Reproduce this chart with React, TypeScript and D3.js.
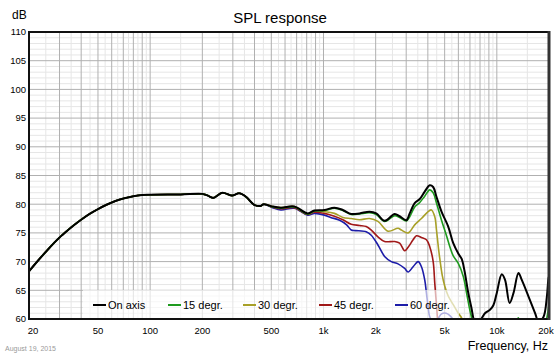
import React from "react";
import * as d3 from "d3";

// ---- data ----
const commonLow: [number, number][] = [
  [20, 68.3], [22, 69.8], [25, 71.7], [28, 73.3], [30, 74.2], [33, 75.3], [36, 76.25],
  [40, 77.3], [45, 78.35], [50, 79.15], [56, 79.9], [63, 80.55], [71, 81.05], [80, 81.4],
  [90, 81.6], [100, 81.65], [150, 81.7], [200, 81.8], [215, 81.5], [231, 81.1],
  [261, 82.0], [297, 81.5], [326, 81.9], [357, 81.3], [398, 79.9], [434, 79.7], [452, 80.0],
];

const onAxis: [number, number][] = [
  [508, 79.6], [568, 79.4], [678, 79.6], [811, 78.4], [886, 78.9], [1012, 79.0], [1156, 79.4],
  [1293, 79.0], [1445, 78.3], [1614, 78.4], [1844, 78.7], [2016, 78.4], [2252, 77.1],
  [2574, 78.3], [2750, 77.9], [3008, 77.2], [3143, 78.4], [3359, 80.2], [3592, 80.9],
  [3838, 82.2], [4103, 83.3], [4293, 83.0], [4486, 81.3], [4796, 78.7], [5243, 76.1],
  [5606, 73.2], [5993, 71.4], [6262, 70.5], [6500, 68.5], [6846, 64.5], [7154, 61.8],
  [7400, 59.8], [7750, 59.3], [8100, 59.9], [8542, 61.0], [9132, 61.6], [9554, 62.4],
  [9988, 64.5], [10676, 67.8], [11156, 66.8], [11850, 62.8], [12474, 64.5], [13336, 68.0],
  [13936, 66.8], [15240, 63.9], [16640, 61.0], [17412, 59.5], [18612, 60.4], [19444, 63.9],
  [19894, 67.4], [20000, 66.5],
];

const deg15: [number, number][] = [
  [508, 79.5], [568, 79.3], [678, 79.5], [811, 78.3], [886, 78.8], [1012, 78.9], [1156, 79.3],
  [1293, 78.9], [1445, 78.2], [1614, 78.3], [1844, 78.5], [2016, 78.2], [2252, 77.0],
  [2574, 78.0], [2750, 77.7], [3008, 77.1], [3143, 77.8], [3359, 79.5], [3592, 80.3],
  [3838, 81.4], [4103, 82.5], [4293, 82.0], [4486, 80.2], [4796, 77.2], [5126, 74.5],
  [5357, 72.6], [5606, 71.0], [5993, 69.7], [6406, 67.4], [6693, 64.5], [6994, 61.5],
  [7154, 60.3], [7400, 58.0], [8000, 55.5], [11000, 56.5], [12700, 58.5], [13300, 60.2],
  [14000, 58.0], [17000, 56.0], [19000, 59.0], [20000, 62.5],
];

const deg30: [number, number][] = [
  [508, 79.6], [568, 79.4], [678, 79.6], [811, 78.3], [886, 78.8], [1012, 78.7], [1156, 78.4],
  [1293, 77.7], [1445, 77.5], [1614, 77.3], [1844, 77.5], [2062, 77.0], [2357, 75.3],
  [2692, 75.8], [2814, 75.5], [3077, 75.0], [3359, 76.4], [3674, 77.5], [4016, 78.7],
  [4196, 79.0], [4386, 77.8], [4486, 75.5], [4600, 72.5], [4688, 70.5], [4850, 67.5],
  [5000, 65.8], [5243, 64.0], [5606, 62.5], [5993, 61.0], [6262, 60.2], [6600, 58.0],
  [7200, 55.0],
];

const deg45: [number, number][] = [
  [508, 79.5], [568, 79.2], [678, 79.4], [811, 78.2], [886, 78.6], [1012, 78.4], [1156, 77.9],
  [1293, 77.3], [1445, 76.5], [1614, 76.3], [1764, 76.1], [1886, 75.5], [2062, 74.3],
  [2252, 73.5], [2574, 73.5], [2750, 73.2], [2940, 71.9], [3077, 72.5], [3289, 73.8],
  [3437, 74.5], [3674, 74.2], [3926, 73.8], [4103, 72.6], [4293, 70.0], [4386, 66.2],
  [4486, 62.5], [4550, 60.0], [4700, 56.0],
];

const deg60: [number, number][] = [
  [508, 79.4], [568, 79.0], [678, 79.3], [811, 78.1], [886, 78.4], [1012, 78.1], [1100, 77.7],
  [1240, 77.2], [1360, 76.4], [1445, 75.5], [1530, 75.4], [1764, 75.2], [1886, 74.6],
  [2062, 72.9], [2252, 70.9], [2462, 70.0], [2692, 69.6], [2940, 68.8], [3077, 68.2],
  [3289, 69.1], [3516, 70.0], [3674, 69.1], [3838, 66.8], [3926, 64.5], [4016, 62.1],
  [4103, 60.4], [4300, 59.6], [4546, 60.0], [4800, 60.9], [5100, 61.0], [5400, 60.5],
  [5700, 59.5], [6000, 58.0], [6500, 56.0],
];

const seriesNames = ["On axis", "15 degr.", "30 degr.", "45 degr.", "60 degr."];
const seriesData = [onAxis, deg15, deg30, deg45, deg60];
const seriesColors = ["#000000", "#1e9a1e", "#a8a028", "#a01818", "#1c1ca8"];

const xTickValues = [20, 50, 100, 200, 500, 1000, 2000, 5000, 10000, 20000];
const xTickLabels = ["20", "50", "100", "200", "500", "1k", "2k", "5k", "10k", "20k"];
const yTickValues = [60, 65, 70, 75, 80, 85, 90, 95, 100, 105, 110];

// ---- layout ----
const W = 559, H = 356;
const L = 29, R = 549, T = 32, B = 319;
const FONT = "'Liberation Sans', Arial, sans-serif";

export default function App() {
  const x = d3.scaleLog().domain([20, 20000]).range([L, R]);
  const y = d3.scaleLinear().domain([60, 110]).range([B, T]);

  const majorX: number[] = [];
  const minorX: number[] = [];
  for (const dec of [10, 100, 1000, 10000]) {
    for (let m = 1; m <= 9; m++) {
      const v = dec * m;
      if (v >= 20 && v <= 20000) majorX.push(v);
      const h = dec * (m + 0.5);
      if (h > 20 && h < 20000) minorX.push(h);
    }
  }
  majorX.push(20000);
  const majorY: number[] = [];
  const minorY: number[] = [];
  for (let v = 60; v <= 110; v++) (v % 5 === 0 ? majorY : minorY).push(v);

  const line = d3
    .line<[number, number]>()
    .x((d) => x(d[0]))
    .y((d) => y(d[1]))
    .curve(d3.curveCatmullRom.alpha(0.5));

  const order = [4, 3, 2, 1, 0];
  const legendX = [93, 168, 243, 319, 395];

  return (
    <svg width={W} height={H} style={{ position: "absolute", left: 0, top: 0, background: "#fff" }} fontFamily={FONT}>
      <defs>
        <clipPath id="plot">
          <rect x={L} y={T} width={R - L} height={B - T} />
        </clipPath>
      </defs>
      <rect x={0} y={0} width={W} height={H} fill="#fff" />
      {/* grid */}
      <g>
        {minorY.map((v) => (
          <line key={"my" + v} x1={L} x2={R} y1={y(v)} y2={y(v)} stroke="#e6e6e6" strokeWidth={1} />
        ))}
        {minorX.map((v) => (
          <line key={"mx" + v} x1={x(v)} x2={x(v)} y1={T} y2={B} stroke="#e6e6e6" strokeWidth={1} />
        ))}
        {majorY.map((v) => (
          <line key={"My" + v} x1={L} x2={R} y1={y(v)} y2={y(v)} stroke="#b0b0b0" strokeWidth={1} />
        ))}
        {majorX.map((v) => (
          <line key={"Mx" + v} x1={x(v)} x2={x(v)} y1={T} y2={B} stroke="#b0b0b0" strokeWidth={1} />
        ))}
      </g>
      {/* curves */}
      <g clipPath="url(#plot)">
        {order.map((i) => (
          <path
            key={i}
            d={line([...commonLow, ...seriesData[i]]) || ""}
            fill="none"
            stroke={seriesColors[i]}
            strokeWidth={i === 0 ? 2 : 1.6}
            strokeLinejoin="round"
          />
        ))}
      </g>
      {/* legend */}
      <rect x={83} y={290} width={376} height={B - 290} fill="#fff" fillOpacity={0.65} />
      {seriesNames.map((n, i) => (
        <g key={n}>
          <line x1={legendX[i]} x2={legendX[i] + 13} y1={305} y2={305} stroke={seriesColors[i]} strokeWidth={2} />
          <text x={legendX[i] + 15} y={309} fontSize={11} fill="#000">{n}</text>
        </g>
      ))}
      {/* frame */}
      <rect x={L} y={T} width={R - L} height={B - T} fill="none" stroke="#111" strokeWidth={2} />
      <line x1={R} x2={R} y1={T - 1} y2={B + 1} stroke="#333" strokeWidth={3} />
      {/* axes labels */}
      {yTickValues.map((v) => (
        <text key={v} x={26} y={y(v)} dy="0.35em" textAnchor="end" fontSize={9.5} fill="#000">{v}</text>
      ))}
      {xTickValues.map((v, i) => (
        <text key={v} x={Math.max(33, Math.min(546, x(v)))} y={334} textAnchor="middle" fontSize={9.5} fill="#000">
          {xTickLabels[i]}
        </text>
      ))}
      <text x={280} y={23} textAnchor="middle" fontSize={15} fill="#000">SPL response</text>
      <text x={12} y={19} fontSize={12} fill="#000">dB</text>
      <text x={548} y={350} textAnchor="end" fontSize={12.5} fill="#000">Frequency, Hz</text>
      <text x={5} y={351} fontSize={7} fill="#9a9a9a">August 19, 2015</text>
    </svg>
  );
}
